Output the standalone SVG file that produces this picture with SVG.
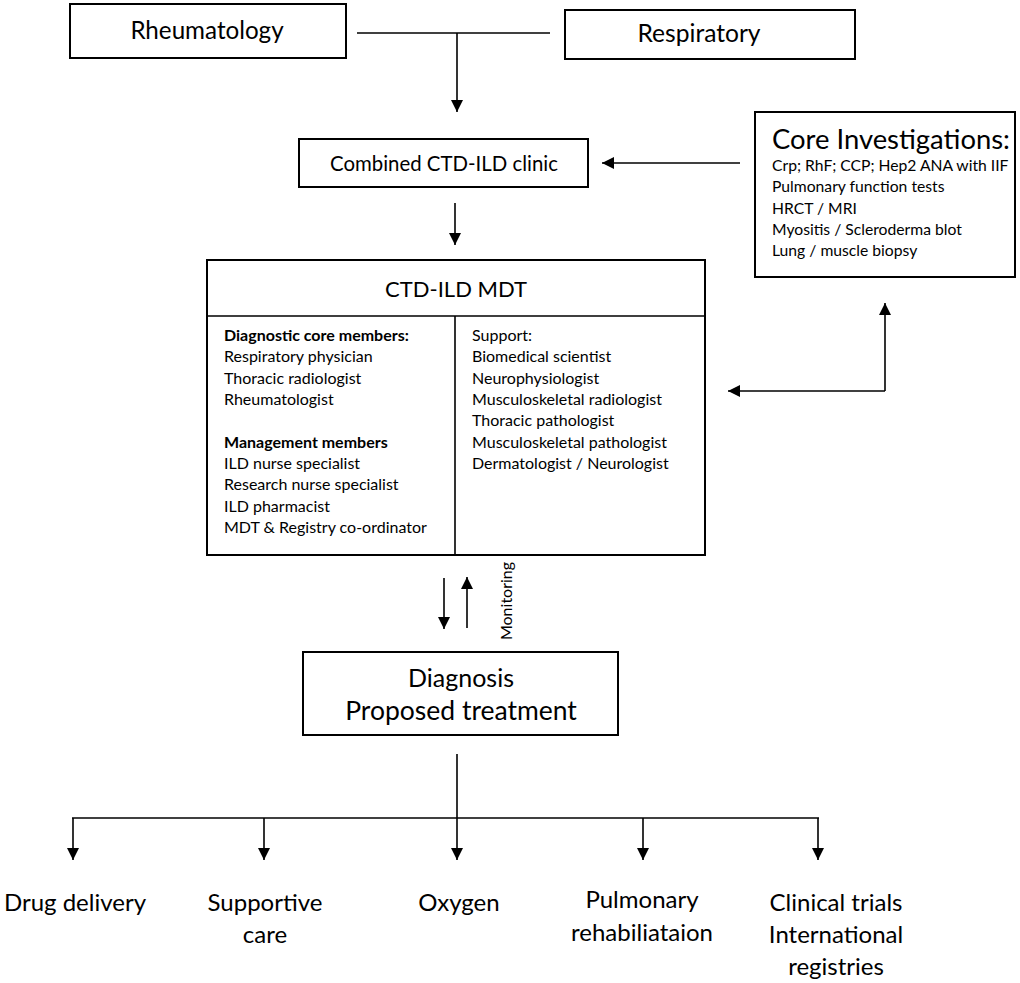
<svg xmlns="http://www.w3.org/2000/svg" width="1020" height="983" viewBox="0 0 1020 983">
<style>
.box{fill:#fff;stroke:#000;stroke-width:2}
.ln{fill:none;stroke:#000;stroke-width:1.6}
text{font-family:Lato,"Liberation Sans",sans-serif;fill:#000}
.big{text-anchor:middle}
.sm{font-size:16px}
.ci{font-size:15.7px}
.b{font-weight:bold}
.bot{font-size:24px;text-anchor:middle}
</style>
<defs>
<marker id="ahw" viewBox="0 0 10 10" refX="10" refY="5" markerWidth="14" markerHeight="12" markerUnits="userSpaceOnUse" orient="auto">
<path d="M0,0 L10,5 L0,10 Z" fill="#000"/>
</marker>
</defs>
<g id="connectors">
<path class="ln" d="M357,33 H550"/>
<path class="ln" d="M457,33 V112" marker-end="url(#ahw)"/>
<path class="ln" d="M740,163 H602" marker-end="url(#ahw)"/>
<path class="ln" d="M455,203 V245" marker-end="url(#ahw)"/>
<path class="ln" d="M885,391 V303" marker-end="url(#ahw)"/>
<path class="ln" d="M885,391 H728" marker-end="url(#ahw)"/>
<path class="ln" d="M444,578 V629" marker-end="url(#ahw)"/>
<path class="ln" d="M467,628 V577" marker-end="url(#ahw)"/>
<path class="ln" d="M457,754 V818"/>
<path class="ln" d="M72,818 H819"/>
<path class="ln" d="M73,818 V860" marker-end="url(#ahw)"/>
<path class="ln" d="M264,818 V860" marker-end="url(#ahw)"/>
<path class="ln" d="M457,818 V860" marker-end="url(#ahw)"/>
<path class="ln" d="M643,818 V860" marker-end="url(#ahw)"/>
<path class="ln" d="M818,818 V860" marker-end="url(#ahw)"/>
</g>
<g id="rheumatology">
<rect class="box" x="70" y="4" width="276" height="54"/>
<text class="big" x="207" y="39" style="font-size:24.2px">Rheumatology</text>
</g>
<g id="respiratory">
<rect class="box" x="565" y="10" width="290" height="49"/>
<text class="big" x="699" y="42" style="font-size:24.6px">Respiratory</text>
</g>
<g id="clinic">
<rect class="box" x="299" y="139" width="289" height="48"/>
<text class="big" x="444" y="171" style="font-size:20.4px">Combined CTD-ILD clinic</text>
</g>
<g id="core">
<rect class="box" x="755" y="112" width="260" height="165"/>
<text x="772" y="149" style="font-size:27.4px">Core Investigations:</text>
<text class="ci" x="772" y="171">Crp; RhF; CCP; Hep2 ANA with IIF</text>
<text class="ci" x="772" y="192">Pulmonary function tests</text>
<text class="ci" x="772" y="214">HRCT / MRI</text>
<text class="ci" x="772" y="235">Myositis / Scleroderma blot</text>
<text class="ci" x="772" y="256">Lung / muscle biopsy</text>
</g>
<g id="mdt">
<rect class="box" x="207" y="260" width="498" height="295"/>
<path class="ln" d="M207,316 H705 M455,316 V555" stroke-width="2"/>
<text class="big" x="456" y="297" style="font-size:22px">CTD-ILD MDT</text>
<text class="sm b" x="224" y="341">Diagnostic core members:</text>
<text class="sm" x="224" y="362">Respiratory physician</text>
<text class="sm" x="224" y="384">Thoracic radiologist</text>
<text class="sm" x="224" y="405">Rheumatologist</text>
<text class="sm b" x="224" y="448">Management members</text>
<text class="sm" x="224" y="469">ILD nurse specialist</text>
<text class="sm" x="224" y="490">Research nurse specialist</text>
<text class="sm" x="224" y="512">ILD pharmacist</text>
<text class="sm" x="224" y="533">MDT &amp; Registry co-ordinator</text>
<text class="sm" x="472" y="341">Support:</text>
<text class="sm" x="472" y="362">Biomedical scientist</text>
<text class="sm" x="472" y="384">Neurophysiologist</text>
<text class="sm" x="472" y="405">Musculoskeletal radiologist</text>
<text class="sm" x="472" y="426">Thoracic pathologist</text>
<text class="sm" x="472" y="448">Musculoskeletal pathologist</text>
<text class="sm" x="472" y="469">Dermatologist / Neurologist</text>
</g>
<g id="monitoring">
<text class="sm" x="0" y="0" text-anchor="middle" transform="translate(512,601) rotate(-90)">Monitoring</text>
</g>
<g id="diagnosis">
<rect class="box" x="303" y="652" width="315" height="83"/>
<text class="big" x="461" y="687" style="font-size:25px">Diagnosis</text>
<text class="big" x="461" y="720" style="font-size:26.5px">Proposed treatment</text>
</g>
<g id="drug"><text class="bot" x="75" y="911">Drug delivery</text></g>
<g id="supportive"><text class="bot" x="265" y="911">Supportive</text><text class="bot" x="265" y="943">care</text></g>
<g id="oxygen"><text class="bot" x="459" y="911">Oxygen</text></g>
<g id="pulmonary"><text class="bot" x="642" y="908">Pulmonary</text><text class="bot" x="642" y="941">rehabiliataion</text></g>
<g id="clinical"><text class="bot" x="836" y="911">Clinical trials</text><text class="bot" x="836" y="943">International</text><text class="bot" x="836" y="975">registries</text></g>
</svg>
